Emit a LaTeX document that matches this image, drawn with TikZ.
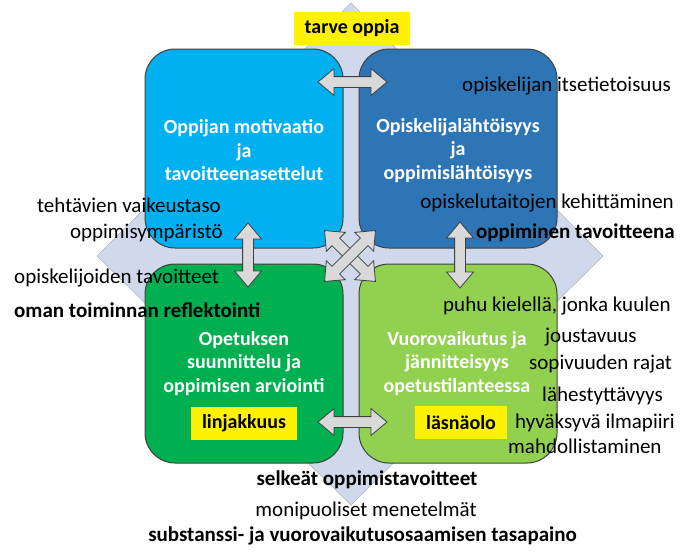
\documentclass[tikz,border=0pt]{standalone}
\usepackage{fontspec}
\setmainfont{Carlito}
\usetikzlibrary{shapes.arrows, positioning}
\definecolor{diamondblue}{RGB}{208,217,235}
\definecolor{cyanbox}{RGB}{0,176,240}
\definecolor{bluebox}{RGB}{46,117,182}
\definecolor{greenbox}{RGB}{0,176,80}
\definecolor{limebox}{RGB}{146,208,80}
\definecolor{arrowgray}{RGB}{217,217,217}
\definecolor{edgegray}{RGB}{64,64,64}
\tikzstyle{quad} = [draw=edgegray, line width=1pt, rectangle, rounded corners=30pt, minimum width=198pt, minimum height=199pt, inner sep=0pt]
\tikzstyle{quadtext} = [text=white, font=\fontsize{20}{23.5}\selectfont\bfseries, align=center, inner sep=0pt]
\tikzstyle{lbl} = [font=\fontsize{21}{25}\selectfont, inner sep=0pt, yshift=-3pt]
\tikzstyle{lblb} = [font=\fontsize{21}{25}\selectfont\bfseries, inner sep=0pt, yshift=-3pt]
\tikzstyle{tag} = [fill=yellow, font=\fontsize{20}{24}\selectfont\bfseries, inner xsep=11pt, inner ysep=0pt, minimum height=33pt]
\tikzstyle{dbl} = [double arrow, draw=edgegray, fill=arrowgray, line width=0.8pt, inner sep=5pt, minimum width=26pt, double arrow head extend=8pt, double arrow tip angle=80, minimum height=69pt]

\begin{document}
\begin{tikzpicture}[x=1pt, y=-1pt]
	\useasboundingbox (0,0) rectangle (690,558);
	\fill [diamondblue, draw=gray!60, line width=0.5pt] (351,3) -- (603,256) -- (351,505) -- (97,256) -- cycle;
	
	\node [quad, fill=cyanbox] (tl) at (244,148.5) {};
	\node [quad, fill=bluebox, right=15pt of tl] (tr) {};
	\node [quad, fill=greenbox, below=15pt of tl] (bl) {};
	\node [quad, fill=limebox, right=15pt of bl] (br) {};
	
	\node [quadtext] (tltext) at ([yshift=-2pt]tl.center) {Oppijan motivaatio\\ja\\tavoitteenasettelut};
	\node [quadtext] (trtext) at ([yshift=-2pt]tr.center) {Opiskelijalähtöisyys\\ja\\oppimislähtöisyys};
	\node [quadtext] (bltext) at (bl.center) {Opetuksen\\suunnittelu ja\\oppimisen arviointi};
	\node [quadtext] (brtext) at ([xshift=-1pt]br.center) {Vuorovaikutus ja\\jännitteisyys\\opetustilanteessa};
	
	\node [dbl] (atop) at (352.5,82) {};
	\node [dbl] (abottom) at (352.5,422) {};
	\node [dbl, minimum height=64pt, rotate=90] (aleft) at (248,255) {};
	\node [dbl, minimum height=66pt, rotate=90] (aright) at (460,255) {};
	\node [dbl, minimum height=72pt, rotate=-45] (adiag1) at (350,256) {};
	\node [dbl, minimum height=72pt, rotate=45] (adiag2) at (350,256) {};
	
	\node [tag] (need) at (352,28) {tarve oppia};
	\node [tag] (align) at (244,423.5) {linjakkuus};
	\node [tag] (presence) at (461,422.5) {läsnäolo};
	
	% vasen puoli
	\node [lbl, anchor=mid east] (difficulty) at (221,207) {tehtävien vaikeustaso};
	\node [lbl, anchor=mid east] (environment) at (223,233) {oppimisympäristö};
	\node [lbl, anchor=mid west] (goals) at (14,278) {opiskelijoiden tavoitteet};
	\node [lblb, anchor=mid west] (reflect) at (14,312) {oman toiminnan reflektointi};
	
	% oikea puoli
	\node [lbl, anchor=mid west] (selfaware) at (462,86) {opiskelijan itsetietoisuus};
	\node [lbl, anchor=mid east] (studyskills) at (674,203) {opiskelutaitojen kehittäminen};
	\node [lblb, anchor=mid east] (learninggoal) at (675,233) {oppiminen tavoitteena};
	\node [lbl, anchor=mid west] (speak) at (443,306) {puhu kielellä, jonka kuulen};
	\node [lbl, anchor=mid west] (flex) at (545,337) {joustavuus};
	\node [lbl, anchor=mid west] (limits) at (529,364) {sopivuuden rajat};
	\node [lbl, anchor=mid west] (approach) at (542,396) {lähestyttävyys};
	\node [lbl, anchor=mid west] (climate) at (515,423) {hyväksyvä ilmapiiri};
	\node [lbl, anchor=mid west] (enable) at (508,448) {mahdollistaminen};
	
	% alaosa
	\node [lblb] (cleargoals) at (367,477) {selkeät oppimistavoitteet};
	\node [lbl] (methods) at (366,508) {monipuoliset menetelmät};
	\node [lblb] (balance) at (362.5,533) {substanssi- ja vuorovaikutusosaamisen tasapaino};
\end{tikzpicture}
\end{document}
